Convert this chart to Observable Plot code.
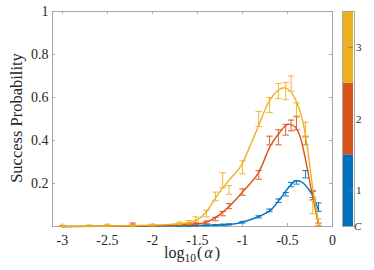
<!DOCTYPE html>
<html><head><meta charset="utf-8">
<script src="https://cdn.jsdelivr.net/npm/d3@7"></script>
<script src="https://cdn.jsdelivr.net/npm/@observablehq/plot@0.6"></script>
<style>
body{margin:0;background:#fff}
#wrap{position:relative;width:374px;height:270px}
#wrap svg{position:absolute;top:0}
</style>
</head><body><div id="wrap"></div>
<script>
// ---- data (log10(alpha) positions and success probabilities) ----
const xPts = [-3, -2.7, -2.5, -2.22, -2, -1.7, -1.6, -1.52, -1.4, -1.3, -1.22, -1.15, -1, -0.82, -0.7, -0.6, -0.52, -0.46, -0.4, -0.3, -0.22, -0.155];

const c3Val = [0.003, 0.004, 0.006, 0.004, 0.007, 0.015, 0.02, 0.035, 0.06, 0.14, 0.215, 0.17, 0.275, 0.5, 0.565, 0.63, 0.63, 0.665, 0.545, 0.45, 0.09, 0.02];
const c3Err = [0.003, 0.003, 0.004, 0.003, 0.004, 0.006, 0.008, 0.01, 0.015, 0.02, 0.035, 0.02, 0.03, 0.035, 0.035, 0.035, 0.04, 0.035, 0.03, 0.035, 0.03, 0.015];

const c2Val = [0.002, 0.002, 0.003, 0.012, 0.004, 0.008, 0.01, 0.012, 0.02, 0.035, 0.06, 0.095, 0.16, 0.24, 0.40, 0.415, 0.45, 0.47, 0.48, 0.40, 0.145, 0.01];
const c2Err = [0.002, 0.002, 0.002, 0.004, 0.003, 0.003, 0.004, 0.005, 0.006, 0.008, 0.01, 0.012, 0.015, 0.02, 0.02, 0.035, 0.025, 0.025, 0.03, 0.02, 0.02, 0.006];

const c1Val = [0.001, 0.001, 0.002, 0.001, 0.002, 0.003, 0.003, 0.004, 0.005, 0.006, 0.008, 0.01, 0.02, 0.045, 0.075, 0.12, 0.15, 0.195, 0.205, 0.243, 0.15, 0.09];
const c1Err = [0.001, 0.001, 0.001, 0.001, 0.001, 0.002, 0.002, 0.002, 0.002, 0.002, 0.003, 0.003, 0.004, 0.005, 0.006, 0.008, 0.008, 0.01, 0.008, 0.017, 0.015, 0.02];

// fitted curves
const c3CurveX = [-3, -2.5, -2.13, -1.8, -1.58, -1.47, -1.39, -1.28, -1.17, -1.02, -0.93, -0.82, -0.7, -0.6, -0.53, -0.46, -0.39, -0.33, -0.3, -0.28, -0.22, -0.155];
const c3CurveY = [0, 0.002, 0.005, 0.01, 0.02, 0.04, 0.075, 0.145, 0.205, 0.28, 0.36, 0.47, 0.585, 0.635, 0.645, 0.625, 0.57, 0.49, 0.42, 0.37, 0.18, 0.02];

const c2CurveX = [-3, -2.5, -2, -1.6, -1.4, -1.24, -1.13, -1.0, -0.83, -0.69, -0.6, -0.5, -0.42, -0.37, -0.33, -0.29, -0.245, -0.2, -0.155];
const c2CurveY = [0, 0.001, 0.004, 0.01, 0.02, 0.06, 0.1, 0.16, 0.245, 0.375, 0.43, 0.475, 0.465, 0.43, 0.37, 0.29, 0.19, 0.1, 0.01];

const c1CurveX = [-3, -2.5, -2, -1.6, -1.3, -1.13, -1.0, -0.8, -0.69, -0.58, -0.49, -0.42, -0.38, -0.32, -0.26, -0.21, -0.155];
const c1CurveY = [0, 0.001, 0.002, 0.004, 0.007, 0.01, 0.02, 0.05, 0.075, 0.13, 0.18, 0.21, 0.213, 0.2, 0.17, 0.135, 0.075];

const xTicks = [-3, -2.5, -2, -1.5, -1, -0.5, 0];
const yTicks = [0.2, 0.4, 0.6, 0.8, 1];
const cbLevels = [1, 2, 3];
const cbLabels = ["1", "2", "3"];
const colors = ["#0072BD", "#D95319", "#EDB120"];

const series = [
  {val: c1Val, err: c1Err, cx: c1CurveX, cy: c1CurveY, color: colors[0]},
  {val: c2Val, err: c2Err, cx: c2CurveX, cy: c2CurveY, color: colors[1]},
  {val: c3Val, err: c3Err, cx: c3CurveX, cy: c3CurveY, color: colors[2]}
];

const font = "'Liberation Serif', 'DejaVu Serif', serif";
const xDomain = [-3.11, 0];
const capSymbol = {draw(ctx, size) { const w = Math.sqrt(size / Math.PI); ctx.moveTo(-w, 0); ctx.lineTo(w, 0); }};

const marks = [
  Plot.frame({stroke: "#a0a0a0", strokeWidth: 0.9}),
  Plot.axisX(xTicks, {tickSize: 0, tickPadding: 9, label: null, fontSize: 14, tickFormat: d => String(d)}),
  Plot.axisY(yTicks, {tickSize: 0, tickPadding: 4, label: null, fontSize: 14, tickFormat: d => String(d)}),
  // inward ticks (box on)
  Plot.ruleX(xTicks, {y1: 0, y2: 0.014, stroke: "#a0a0a0", strokeWidth: 0.9}),
  Plot.ruleX(xTicks, {y1: 0.986, y2: 1, stroke: "#a0a0a0", strokeWidth: 0.9}),
  Plot.ruleY(yTicks, {x1: xDomain[0], x2: xDomain[0] + 0.033, stroke: "#a0a0a0", strokeWidth: 0.9}),
  Plot.ruleY(yTicks, {x1: -0.033, x2: 0, stroke: "#a0a0a0", strokeWidth: 0.9})
];

for (const s of series) {
  const pts = xPts.map((x, i) => ({x, v: s.val[i], e: s.err[i]}));
  const curve = s.cx.map((x, i) => ({x, y: s.cy[i]}));
  marks.push(
    Plot.ruleX(pts, {x: "x", y1: d => Math.max(0, d.v - d.e), y2: d => d.v + d.e, stroke: s.color, strokeWidth: 1.1, strokeOpacity: 0.85}),
    Plot.dot(pts, {x: "x", y: d => Math.max(0, d.v - d.e), symbol: capSymbol, r: 3.2, stroke: s.color, strokeWidth: 1.1, strokeOpacity: 0.85, fill: "none"}),
    Plot.dot(pts, {x: "x", y: d => d.v + d.e, symbol: capSymbol, r: 3.2, stroke: s.color, strokeWidth: 1.1, strokeOpacity: 0.85, fill: "none"}),
    Plot.line(curve, {x: "x", y: "y", stroke: s.color, strokeWidth: 1.4, curve: "catmull-rom"})
  );
}

const chart = Plot.plot({
  width: 374, height: 270,
  marginLeft: 52, marginRight: 42, marginTop: 11, marginBottom: 44,
  style: {fontFamily: font, color: "#262626", background: "transparent", overflow: "visible"},
  x: {domain: xDomain},
  y: {domain: [0, 1]},
  marks
});

// axis titles
const svg = d3.select(chart);
svg.append("text")
  .attr("transform", "translate(18,118) rotate(-90)")
  .attr("text-anchor", "middle").attr("dominant-baseline", "middle")
  .attr("font-family", font).attr("font-size", 16.5).attr("fill", "#262626")
  .text("Success Probability");
const xl = svg.append("text")
  .attr("x", 192).attr("y", 258).attr("text-anchor", "middle")
  .attr("font-family", font).attr("font-size", 16).attr("fill", "#262626");
xl.append("tspan").text("log");
xl.append("tspan").attr("dy", 4).attr("font-size", 11.5).text("10");
xl.append("tspan").attr("dy", -4).attr("dx", 1).text("(");
xl.append("tspan").attr("dx", 2).attr("font-style", "italic").text("α");
xl.append("tspan").attr("dx", 2).text(")");

// colorbar
const cbData = cbLevels.map((l, i) => ({lo: l - 1, hi: l, mid: l - 0.5, label: cbLabels[i], color: colors[i]}));
const cb = Plot.plot({
  width: 44, height: 270,
  marginLeft: 12, marginRight: 20, marginTop: 11, marginBottom: 44,
  style: {fontFamily: font, color: "#262626", background: "transparent", overflow: "visible"},
  x: {domain: [0, 1], axis: null},
  y: {domain: [0, cbLevels.length], axis: null},
  marks: [
    Plot.rect(cbData, {x1: 0, x2: 1, y1: "lo", y2: "hi", fill: "color"}),
    Plot.frame({stroke: "#a0a0a0", strokeWidth: 0.9}),
    Plot.tickY(cbData, {y: "mid", x: 1, stroke: "#777", strokeWidth: 0.8}),
    Plot.text(cbData, {x: 1, y: "mid", text: "label", dx: 5, textAnchor: "start", fontSize: 11}),
    Plot.text(["C"], {x: 1, y: [0], dx: 3, textAnchor: "start", fontSize: 11, fontStyle: "italic"})
  ]
});
d3.select(cb).style("left", "330px");

const wrap = document.getElementById("wrap");
wrap.appendChild(chart);
wrap.appendChild(cb);
</script>
</body></html>
